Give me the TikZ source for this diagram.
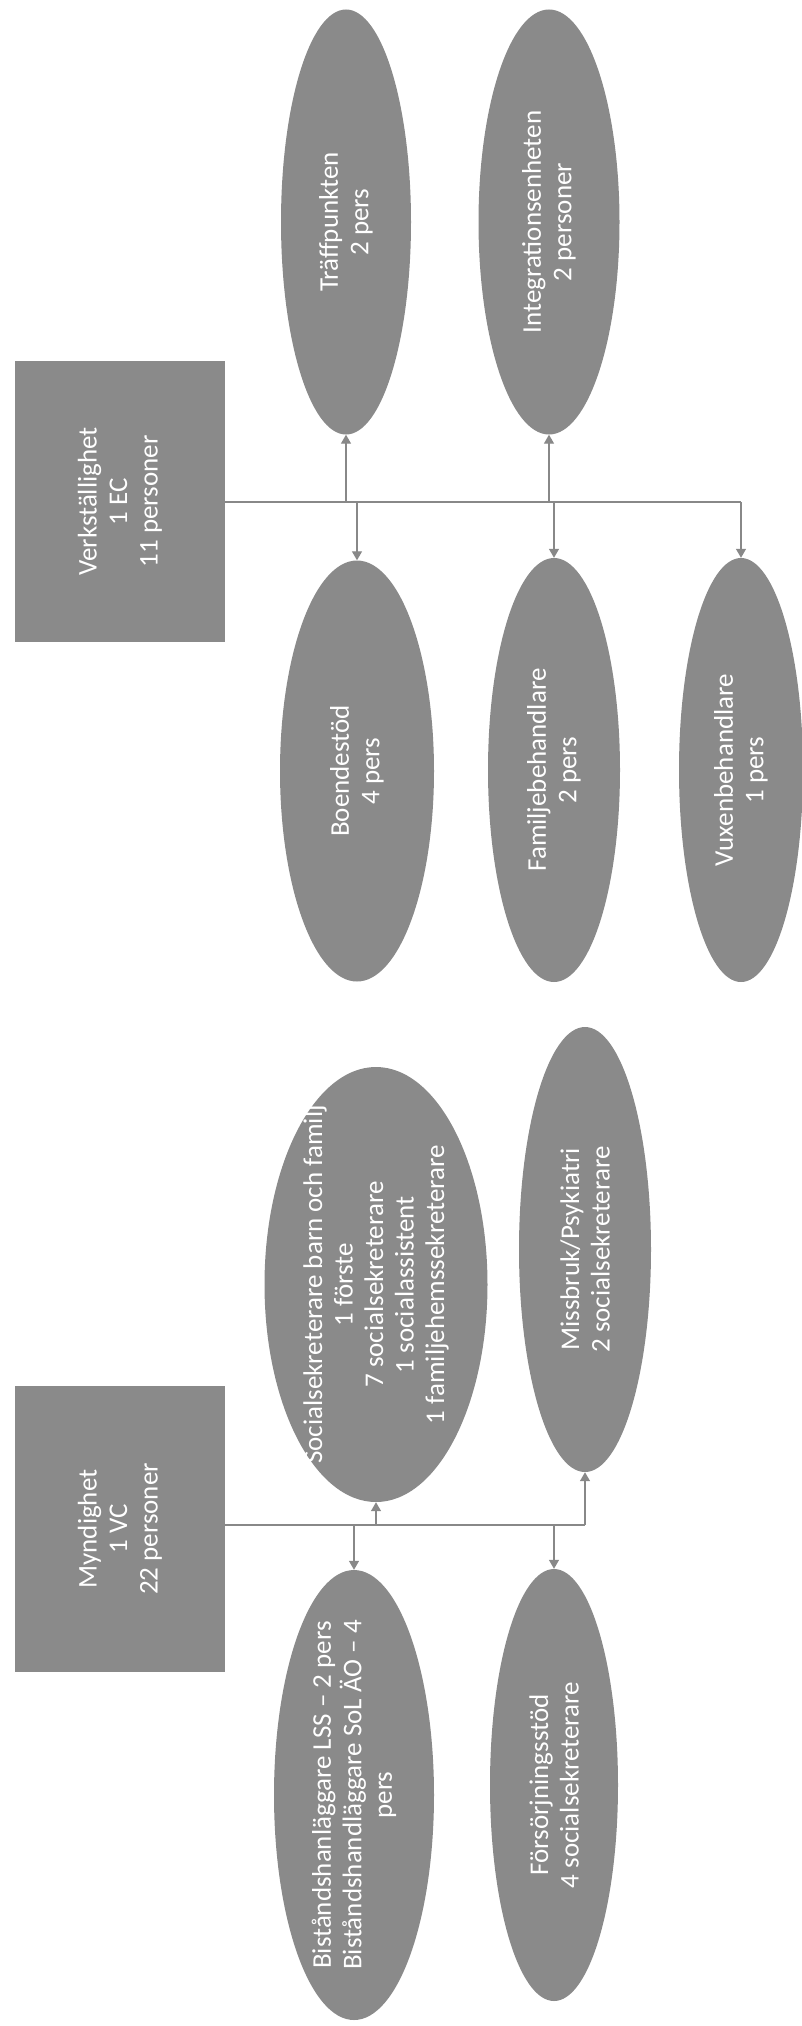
\documentclass[tikz,border=0pt]{standalone}
\usepackage{fontspec}
\setmainfont{Carlito}
\usetikzlibrary{shapes.geometric,arrows.meta}
\definecolor{boxgray}{HTML}{8A8A8A}
\definecolor{linegray}{HTML}{888888}
\begin{document}
\begin{tikzpicture}[x=1pt,y=-1pt,
  box/.style={fill=boxgray,draw=none,inner sep=0pt},
  oval/.style={ellipse,fill=boxgray,draw=none,inner sep=0pt},
  lbl/.style={text=white,rotate=90,align=center,inner sep=0pt,font=\fontsize{27}{30.5}\selectfont},
  conn/.style={draw=linegray,line width=1.3pt},
  arr/.style={conn,-{Triangle[width=10pt,length=9pt]}}]
\useasboundingbox (0,0) rectangle (802,2026);

% ---- Verkställighet ----
\node[box,minimum width=210pt,minimum height=281pt] (verk) at (120,501.5) {};
\node[lbl] (verkt) at (verk.center) {Verkställighet\\1 EC\\11 personer};

\node[oval,minimum width=130pt,minimum height=425pt] (trf) at (346,222) {};
\node[lbl] (trft) at (trf.center) {Träffpunkten\\2 pers};
\node[oval,minimum width=141pt,minimum height=425pt] (int) at (549,222) {};
\node[lbl] (intt) at (int.center) {Integrationsenheten\\2 personer};

\node[oval,minimum width=154pt,minimum height=421pt] (boe) at (357,771) {};
\node[lbl] (boet) at (boe.center) {Boendestöd\\4 pers};
\node[oval,minimum width=132pt,minimum height=424pt] (fam) at (554,770) {};
\node[lbl] (famt) at (fam.center) {Familjebehandlare\\2 pers};
\node[oval,minimum width=124pt,minimum height=424pt] (vux) at (741,770) {};
\node[lbl] (vuxt) at (vux.center) {Vuxenbehandlare\\1 pers};

\coordinate (vj) at (741,502);
\draw[conn] (verk.east |- vj) -- (vj);
\draw[arr] (trf.south |- vj) -- (trf.south);
\draw[arr] (int.south |- vj) -- (int.south);
\draw[arr] (boe.north |- vj) -- (boe.north);
\draw[arr] (fam.north |- vj) -- (fam.north);
\draw[arr] (vj) -- (vux.north);

% ---- Myndighet ----
\node[box,minimum width=210pt,minimum height=286pt] (myn) at (120,1529) {};
\node[lbl] (mynt) at (myn.center) {Myndighet\\1 VC\\22 personer};

\node[oval,minimum width=223pt,minimum height=435pt] (soc) at (376,1284.5) {};
\node[lbl] (soct) at (soc.center) {Socialsekreterare barn och familj\\1 förste\\7 socialsekreterare\\1 socialassistent\\1 familjehemssekreterare};
\node[oval,minimum width=132pt,minimum height=445pt] (mis) at (585,1249.5) {};
\node[lbl] (mist) at (mis.center) {Missbruk/Psykiatri\\2 socialsekreterare};

\node[oval,minimum width=160pt,minimum height=450pt] (bis) at (354,1795) {};
\node[lbl] (bist) at (bis.center) {Biståndshanläggare LSS – 2 pers\\Biståndshandläggare SoL ÄO – 4\\pers};
\node[oval,minimum width=128pt,minimum height=432pt] (for) at (554,1785) {};
\node[lbl] (fort) at (for.center) {Försörjningsstöd\\4 socialsekreterare};

\coordinate (mj) at (585,1525);
\draw[conn] (myn.east |- mj) -- (mj);
\draw[arr] (soc.south |- mj) -- (soc.south);
\draw[arr] (mj) -- (mis.south);
\draw[arr] (bis.north |- mj) -- (bis.north);
\draw[arr] (for.north |- mj) -- (for.north);
\end{tikzpicture}
\end{document}
